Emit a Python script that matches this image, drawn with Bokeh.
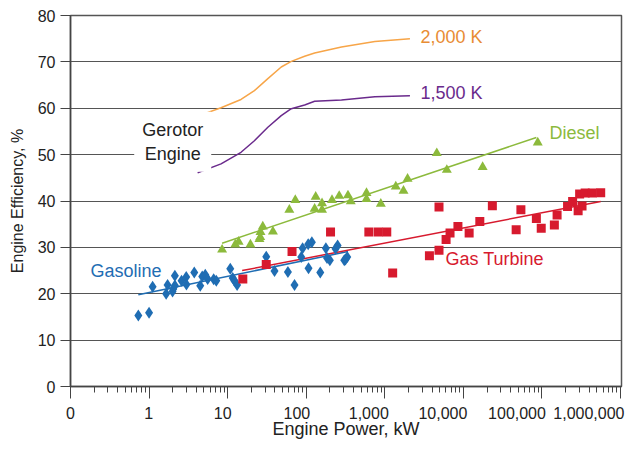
import math
from bokeh.plotting import figure
from bokeh.models import FixedTicker, Label, CustomJSTickFormatter, LogAxis
from bokeh.embed import file_html
from bokeh.resources import INLINE

# ---------------- data ----------------
xticks = [0.1, 1, 10, 100, 1e3, 1e4, 1e5, 1e6]
xtick_labels = ["0", "1", "10", "100", "1,000", "10,000", "100,000", "1,000,000"]
yticks = [0, 10, 20, 30, 40, 50, 60, 70, 80]

gasoline_kw = [0.73, 1.0, 1.11, 1.65, 1.72, 1.99, 2.03, 2.13, 2.13, 2.59, 2.97, 2.99, 3.76, 4.48,
               4.75, 5.19, 5.57, 6.64, 7.17, 10.8, 11.6, 12.2, 13.2, 31, 39.5, 58.5, 71, 86.5,
               90, 106, 118, 107, 151, 178, 184, 200, 236, 251, 305, 333, 316]
gasoline_eff = [15.3, 15.9, 21.5, 20.0, 21.9, 20.5, 21.0, 21.8, 23.9, 22.8, 23.6, 22.0, 24.6, 21.7,
                23.7, 24.1, 23.2, 23.1, 22.8, 25.4, 23.4, 22.8, 21.9, 28.0, 24.9, 24.7, 21.9, 27.9,
                29.8, 30.7, 31.1, 25.5, 24.6, 29.8, 27.7, 27.2, 29.7, 30.4, 27.2, 27.9, 27.4]

diesel_kw = [8.5, 12.5, 13.8, 19.5, 25.4, 26.2, 28, 37.7, 26, 61, 72.6, 128, 132, 159, 159, 213,
             263, 340, 369, 585, 585, 890, 1380, 1730, 1950, 4590, 6160, 17600, 88500]
diesel_eff = [29.5, 30.6, 31.2, 30.6, 31.8, 33.3, 34.5, 33.4, 32.2, 38.1, 40.2, 38.3, 40.9, 38.1,
              39.5, 40.2, 41.1, 41.2, 39.9, 41.7, 40.4, 39.4, 43.1, 42.2, 44.8, 50.3, 46.7, 47.3, 52.6]

turbine_kw = [15.6, 31, 66, 204, 627, 826, 1060, 1260, 3700, 4900, 4900, 6030, 6770, 8530, 11850,
              16200, 23400, 47000, 54000, 85000, 98000, 144000, 156000, 212000, 246000, 289000,
              324000, 302000, 355000, 438000, 560000]
turbine_eff = [23.2, 26.3, 29.1, 33.3, 33.3, 33.3, 33.3, 24.5, 28.2, 29.4, 38.7, 31.7, 33.1, 34.5,
               33.1, 35.6, 39.0, 33.8, 38.1, 36.2, 34.1, 34.8, 37.0, 38.8, 39.9, 37.9, 38.9, 41.5,
               41.7, 41.7, 41.8]

gasoline_fit_kw = [0.73, 340]
gasoline_fit_eff = [19.8, 29.1]
turbine_fit_kw = [15.3, 560000]
turbine_fit_eff = [25.0, 39.9]
diesel_fit_kw = [8.5, 85000]
diesel_fit_eff = [30.9, 53.7]

gerotor_kw = [4.15, 8.24, 14.8, 21.9, 32.5, 48.1, 64.6, 95.5, 128, 281, 748, 2090]
gerotor_2000k = [58.3, 60.1, 61.9, 63.8, 66.4, 68.9, 70.1, 71.2, 71.9, 73.2, 74.4, 75.0]
gerotor_1500k = [46.1, 48.0, 50.5, 53.0, 55.9, 58.4, 59.9, 60.7, 61.5, 61.8, 62.5, 62.7]

# ---------------- colours / fonts ----------------
BLUE = "#1f6db3"
GREEN = "#8cba3c"
RED = "#d71a2e"
ORANGE = "#f7a548"
ORANGE_T = "#e88c34"
PURPLE = "#6a2a8c"
FONT = "Liberation Sans"
AX = "#444444"
TXT = "#222222"

X_START, X_END = 0.1, 1.03e6
FRAME_W = 551
TICK_FS = 16

p = figure(width=628, height=442, x_axis_type="log", x_range=(X_START, X_END), y_range=(0, 80),
           output_backend="svg", toolbar_location=None,
           min_border_left=70, min_border_right=7, min_border_top=15, min_border_bottom=56)

p.background_fill_color = "white"
p.border_fill_color = "white"
p.outline_line_color = "#555555"
p.outline_line_width = 1.5

# grid
p.xgrid.visible = False
p.ygrid.ticker = FixedTicker(ticks=yticks)
p.ygrid.grid_line_color = "#555555"
p.ygrid.grid_line_width = 1

# y axis
p.yaxis.ticker = FixedTicker(ticks=yticks)
p.yaxis.axis_label = "Engine Efficiency, %"
p.yaxis.axis_label_text_font = FONT
p.yaxis.axis_label_text_font_style = "normal"
p.yaxis.axis_label_text_font_size = "16px"
p.yaxis.axis_label_text_color = TXT
p.yaxis.axis_label_standoff = 9
p.yaxis.major_label_text_font = FONT
p.yaxis.major_label_text_font_size = "16px"
p.yaxis.major_label_text_color = TXT
p.yaxis.major_label_standoff = 5
p.yaxis.major_tick_in = 0
p.yaxis.major_tick_out = 10
p.yaxis.minor_tick_line_color = None
p.yaxis.axis_line_color = AX
p.yaxis.axis_line_width = 1.5
p.yaxis.major_tick_line_color = AX

# x axis: line + ticks only
minor = [m * 10 ** e for e in range(-1, 6) for m in range(2, 10)]
p.xaxis.ticker = FixedTicker(ticks=xticks, minor_ticks=minor)
p.xaxis.formatter = CustomJSTickFormatter(code="return '';")
p.xaxis.major_label_standoff = 0
p.xaxis.major_tick_in = 0
p.xaxis.major_tick_out = 12
p.xaxis.minor_tick_in = 0
p.xaxis.minor_tick_out = 6
p.xaxis.axis_line_color = AX
p.xaxis.axis_line_width = 1.5
p.xaxis.major_tick_line_color = AX
p.xaxis.minor_tick_line_color = AX

# second bottom axis that carries the tick labels, each label right-aligned to
# its tick (shifted by half its approximate rendered width), plus the axis title
px_per_decade = FRAME_W / math.log10(X_END / X_START)
def label_anchor(tv, txt):
    width = TICK_FS * (0.556 * sum(c.isdigit() for c in txt) + 0.278 * txt.count(","))
    shift_px = 4 - width / 2
    return max(X_START, tv * 10 ** (shift_px / px_per_decade))

label_pos = [label_anchor(tv, tl) for tv, tl in zip(xticks, xtick_labels)]
lab_axis = LogAxis(
    ticker=FixedTicker(ticks=label_pos, minor_ticks=[]),
    formatter=CustomJSTickFormatter(
        args=dict(pos=label_pos, labels=xtick_labels),
        code="""
        let best = 0, bd = Infinity;
        for (let i = 0; i < pos.length; i++) {
            const d = Math.abs(Math.log10(tick) - Math.log10(pos[i]));
            if (d < bd) { bd = d; best = i; }
        }
        return labels[best];
        """))
lab_axis.axis_line_color = None
lab_axis.major_tick_line_color = None
lab_axis.minor_tick_line_color = None
lab_axis.major_tick_in = 0
lab_axis.major_tick_out = 0
lab_axis.major_label_standoff = 8
lab_axis.major_label_text_font = FONT
lab_axis.major_label_text_font_size = f"{TICK_FS}px"
lab_axis.major_label_text_color = TXT
lab_axis.axis_label = "Engine Power, kW"
lab_axis.axis_label_text_font = FONT
lab_axis.axis_label_text_font_style = "normal"
lab_axis.axis_label_text_font_size = "18px"
lab_axis.axis_label_text_color = TXT
lab_axis.axis_label_standoff = -3
p.add_layout(lab_axis, "below")

# gerotor curves
p.line(gerotor_kw, gerotor_2000k, line_color=ORANGE, line_width=1.5)
p.line(gerotor_kw, gerotor_1500k, line_color=PURPLE, line_width=1.5)

# fit lines
p.line(gasoline_fit_kw, gasoline_fit_eff, line_color=BLUE, line_width=1.5)
p.line(turbine_fit_kw, turbine_fit_eff, line_color=RED, line_width=1.5)
p.line(diesel_fit_kw, diesel_fit_eff, line_color=GREEN, line_width=1.5)

# points
p.scatter(gasoline_kw, gasoline_eff, marker="diamond", size=12, fill_color=BLUE, line_color=None)
p.scatter(turbine_kw, turbine_eff, marker="square", size=9, fill_color=RED, line_color=None)
p.scatter(diesel_kw, diesel_eff, marker="triangle", size=10, fill_color=GREEN, line_color=None)

# labels
def lab(x, y, text, color):
    p.add_layout(Label(x=x, y=y, text=text, text_color=color, text_font=FONT,
                       text_font_size="18px", text_align="left", text_baseline="middle"))

lab(2850, 75.3, "2,000 K", ORANGE_T)
lab(2850, 63.2, "1,500 K", PURPLE)
lab(124800, 54.6, "Diesel", GREEN)
lab(5930, 27.5, "Gas Turbine", RED)
lab(0.18, 25.0, "Gasoline", BLUE)

p.add_layout(Label(x=2.0, y=52.8, text="Gerotor\nEngine", text_color=TXT, text_font=FONT,
                   text_font_size="18px", text_align="center", text_baseline="middle",
                   text_line_height=1.2, background_fill_color="white", padding=8))

open("out.html", "w").write(file_html(p, INLINE))
